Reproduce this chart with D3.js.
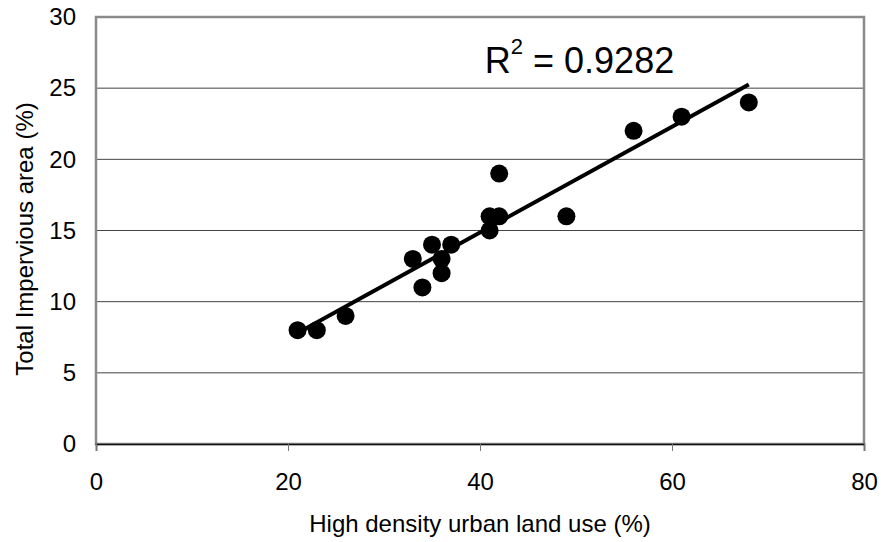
<!DOCTYPE html>
<html>
<head>
<meta charset="utf-8">
<script src="https://cdn.jsdelivr.net/npm/d3@7"></script>
<style>
  body { margin: 0; background: #fff; }
  text { font-family: "Liberation Sans", Arial, sans-serif; fill: #000; }
</style>
</head>
<body>
<svg></svg>
<script>
const highDensity = [21, 23, 26, 33, 34, 35, 36, 36, 37, 41, 41, 42, 42, 49, 56, 61, 68];
const impervious = [8, 8, 9, 13, 11, 14, 13, 12, 14, 16, 15, 16, 19, 16, 22, 23, 24];
const xTicks = [0, 20, 40, 60, 80];
const yTicks = [0, 5, 10, 15, 20, 25, 30];
const rSquaredLabel = "0.9282";

const width = 881;
const height = 542;
const svg = d3.select("svg").attr("width", width).attr("height", height);

const margin = { left: 96, right: 17, top: 17, bottom: 98 };
const plotW = width - margin.left - margin.right;
const plotH = height - margin.top - margin.bottom;

const data = highDensity.map((x, i) => ({ x, y: impervious[i] }));

const xScale = d3.scaleLinear().domain([0, 80]).range([0, plotW]);
const yScale = d3.scaleLinear().domain([0, 30]).range([plotH, 0]);

const g = svg.append("g").attr("transform", `translate(${margin.left},${margin.top})`);

// gridlines
g.append("g")
  .selectAll("line")
  .data(yTicks.filter((d) => d > 0 && d < 30))
  .join("line")
  .attr("x1", 0)
  .attr("x2", plotW)
  .attr("y1", (d) => yScale(d))
  .attr("y2", (d) => yScale(d))
  .attr("stroke", "#444")
  .attr("stroke-width", 1);

// frame
g.append("rect")
  .attr("x", 0)
  .attr("y", 0)
  .attr("width", plotW)
  .attr("height", plotH)
  .attr("fill", "none")
  .attr("stroke", "#8a8a8a")
  .attr("stroke-width", 2.5);

// x axis
const xAxis = d3.axisBottom(xScale).tickValues(xTicks).tickSize(7).tickPadding(22);
const xAxisG = g.append("g").attr("transform", `translate(0,${plotH})`).call(xAxis);
xAxisG.select(".domain").attr("stroke", "#111").attr("stroke-width", 1.6);
xAxisG.selectAll(".tick line").attr("stroke", "#777");
xAxisG.selectAll(".tick text").attr("font-size", 24).attr("font-family", null);

// y axis
const yAxis = d3.axisLeft(yScale).tickValues(yTicks).tickSize(0).tickPadding(20);
const yAxisG = g.append("g").call(yAxis);
yAxisG.select(".domain").remove();
yAxisG.selectAll(".tick text").attr("font-size", 24).attr("font-family", null);

// trend line (least squares)
const mx = d3.mean(data, (d) => d.x);
const my = d3.mean(data, (d) => d.y);
const slope = d3.sum(data, (d) => (d.x - mx) * (d.y - my)) / d3.sum(data, (d) => (d.x - mx) ** 2);
const intercept = my - slope * mx;
const [x0, x1] = d3.extent(data, (d) => d.x);

g.append("line")
  .attr("x1", xScale(x0))
  .attr("y1", yScale(intercept + slope * x0))
  .attr("x2", xScale(x1))
  .attr("y2", yScale(intercept + slope * x1))
  .attr("stroke", "#000")
  .attr("stroke-width", 4);

g.selectAll("circle")
  .data(data)
  .join("circle")
  .attr("cx", (d) => xScale(d.x))
  .attr("cy", (d) => yScale(d.y))
  .attr("r", 9)
  .attr("fill", "#000");

// R² label
const rText = g.append("text")
  .attr("x", xScale(40.5))
  .attr("y", yScale(25) - 15.5)
  .attr("font-size", 36);
rText.append("tspan").text("R");
rText.append("tspan").attr("font-size", 22).attr("dy", -19).text("2");
rText.append("tspan").attr("dy", 19).text(" = " + rSquaredLabel);

// axis titles
svg.append("text")
  .attr("x", margin.left + plotW / 2)
  .attr("y", 532)
  .attr("text-anchor", "middle")
  .attr("font-size", 24)
  .text("High density urban land use (%)");

svg.append("text")
  .attr("transform", `translate(33,239) rotate(-90)`)
  .attr("text-anchor", "middle")
  .attr("font-size", 24)
  .text("Total Impervious area (%)");
</script>
</body>
</html>
